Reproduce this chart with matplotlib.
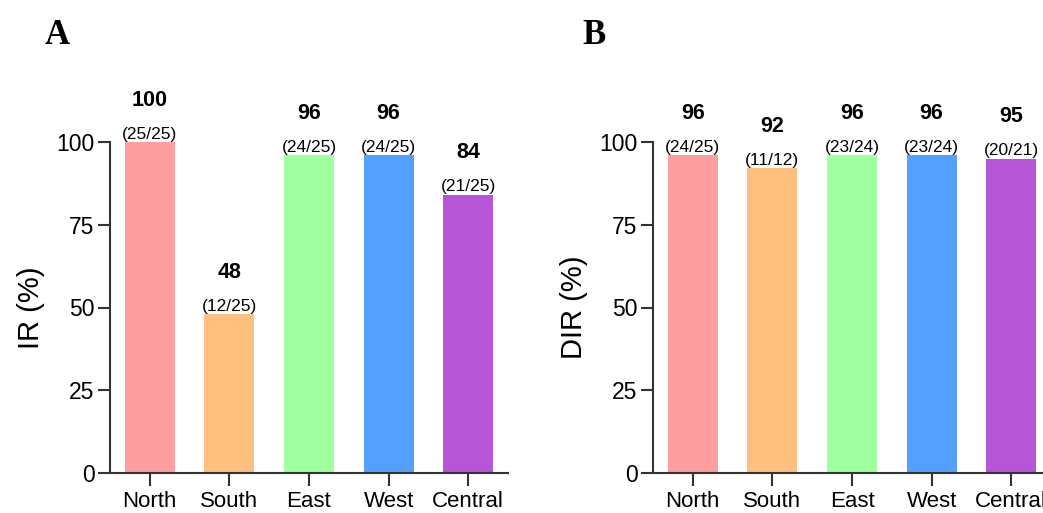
import matplotlib
matplotlib.use("Agg")
import matplotlib.pyplot as plt

regions = ["North", "South", "East", "West", "Central"]
colors = ["#FF9E9E", "#FFBF7F", "#A0FFA0", "#55A0FF", "#B656D6"]

ir_values = [100, 48, 96, 96, 84]
ir_fracs = ["(25/25)", "(12/25)", "(24/25)", "(24/25)", "(21/25)"]

dir_values = [96, 92, 96, 96, 95]
dir_fracs = ["(24/25)", "(11/12)", "(23/24)", "(23/24)", "(20/21)"]

yticks = [0, 25, 50, 75, 100]

plt.rcParams['font.family'] = ['Liberation Sans', 'DejaVu Sans']

W, H = 1043, 513
fig = plt.figure(figsize=(W / 100, H / 100), dpi=100)

def px_axes(left, bottom_px, right, top_px):
    return fig.add_axes([left / W, (H - bottom_px) / H, (right - left) / W, (bottom_px - top_px) / H])

def draw(ax, values, fracs, ylabel):
    x = list(range(len(regions)))
    ax.bar(x, values, width=0.63, color=colors, linewidth=0)
    ax.set_xlim(-0.5, 4.5)
    ax.set_ylim(0, 100)
    ax.set_yticks(yticks)
    ax.set_xticks(x)
    ax.set_xticklabels(regions, fontsize=16)
    ax.tick_params(axis='y', labelsize=16.5, length=9, width=1.5, pad=2, color='#333333')
    ax.tick_params(axis='x', length=9, width=1.5, pad=4, color='#333333')
    for s in ['top', 'right']:
        ax.spines[s].set_visible(False)
    for s in ['left', 'bottom']:
        ax.spines[s].set_linewidth(1.5)
        ax.spines[s].set_color('#333333')
    ax.spines['left'].set_bounds(0, 100)
    ax.set_ylabel(ylabel, fontsize=21, labelpad=8)
    for xi, v, f in zip(x, values, fracs):
        ax.annotate(f, (xi, v), xytext=(0, 8), textcoords='offset pixels',
                    ha='center', va='center', fontsize=12.5, annotation_clip=False)
        ax.annotate(str(v), (xi, v), xytext=(0, 42), textcoords='offset pixels',
                    ha='center', va='center', fontsize=15.5, fontweight='bold',
                    annotation_clip=False)

axA = px_axes(110, 473, 508, 142)
draw(axA, ir_values, ir_fracs, "IR (%)")
axB = px_axes(653, 473, 1051, 142)
draw(axB, dir_values, dir_fracs, "DIR (%)")

fig.text(45 / W, 1 - 36 / H, "A", fontsize=25, fontweight='bold',
         family=['Liberation Serif', 'DejaVu Serif'], va='center', ha='left')
fig.text(582 / W, 1 - 36 / H, "B", fontsize=25, fontweight='bold',
         family=['Liberation Serif', 'DejaVu Serif'], va='center', ha='left')

fig.savefig("out.png", dpi=100)
